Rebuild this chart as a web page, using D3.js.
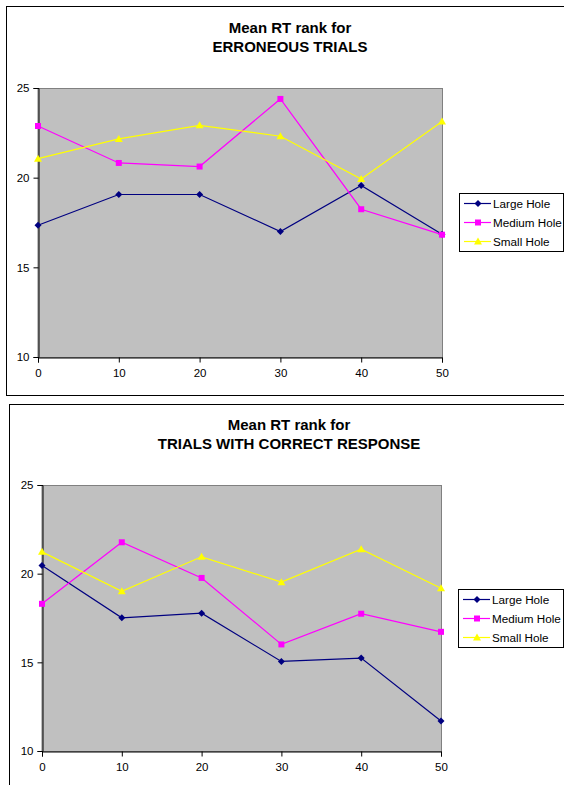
<!DOCTYPE html>
<html><head><meta charset="utf-8">
<script src="https://cdn.jsdelivr.net/npm/d3@7"></script>
<style>
html,body{margin:0;padding:0;background:#fff;}
svg{display:block;font-family:Arial,"Liberation Sans",sans-serif;}
</style></head>
<body>
<svg id="chart" width="564" height="785"></svg>
<script>
// ---- data ----
const xValues = [0, 10, 20, 30, 40, 50];
const yTicks = [10, 15, 20, 25];
const seriesNames = ["Large Hole", "Medium Hole", "Small Hole"];
const seriesColors = ["#000080", "#FF00FF", "#FFFF00"];
const errTitle = ["Mean RT rank for", "ERRONEOUS TRIALS"];
const errLarge  = [17.35, 19.06, 19.06, 17.0, 19.56, 16.85];
const errMedium = [22.88, 20.82, 20.62, 24.39, 18.24, 16.82];
const errSmall  = [21.06, 22.16, 22.92, 22.31, 19.93, 23.13];
const corTitle = ["Mean RT rank for", "TRIALS WITH CORRECT RESPONSE"];
const corLarge  = [20.46, 17.51, 17.77, 15.05, 15.24, 11.69];
const corMedium = [18.30, 21.77, 19.76, 16.01, 17.74, 16.72];
const corSmall  = [21.23, 19.01, 20.95, 19.52, 21.38, 19.18];

const svg = d3.select("#chart");

const markerPaths = [
  "M0,-3.5L3.5,0L0,3.5L-3.5,0Z",
  "M-3,-3L3,-3L3,3L-3,3Z",
  "M0,-4L4,3L-4,3Z"
];

function drawChart(cfg) {
  const g = svg.append("g");
  // outer frame
  g.append("rect")
    .attr("x", cfg.frame.x + 0.5).attr("y", cfg.frame.y + 0.5)
    .attr("width", cfg.frame.w).attr("height", cfg.frame.h)
    .attr("fill", "#fff").attr("stroke", "#000").attr("stroke-width", 1);

  // title
  cfg.title.forEach((t, i) => {
    g.append("text")
      .attr("x", cfg.titleX).attr("y", cfg.titleY + i * 18.5)
      .attr("text-anchor", "middle")
      .attr("font-size", "15px").attr("font-weight", "bold")
      .text(t);
  });

  const x = d3.scaleLinear().domain([0, 50]).range([cfg.plot.x0, cfg.plot.x1]);
  const y = d3.scaleLinear().domain([10, 25]).range([cfg.plot.y1, cfg.plot.y0]);

  // plot area
  g.append("rect")
    .attr("x", cfg.plot.x0).attr("y", cfg.plot.y0 + 0.5)
    .attr("width", cfg.plot.x1 - cfg.plot.x0 + 0.5)
    .attr("height", cfg.plot.y1 - cfg.plot.y0)
    .attr("fill", "#C0C0C0").attr("stroke", "#808080").attr("stroke-width", 1);

  // axes
  const yAxis = d3.axisLeft(y).tickValues(yTicks).tickSizeOuter(0).tickSize(5).tickPadding(4);
  const xAxis = d3.axisBottom(x).tickValues(xValues).tickSizeOuter(0).tickSize(5).tickPadding(6);
  const ya = g.append("g").attr("transform", `translate(${cfg.plot.x0 + 0.5},0)`).call(yAxis);
  const xa = g.append("g").attr("transform", `translate(0,${cfg.plot.y1 + 0.5})`).call(xAxis);
  [ya, xa].forEach(a => {
    a.selectAll("text").attr("font-size", "11.5px").attr("font-family", "Arial, Liberation Sans, sans-serif").attr("fill", "#000");
    a.selectAll("line,path").attr("stroke", "#000");
  });

  // series
  const line = d3.line().x((d, i) => x(xValues[i])).y(d => y(d));
  cfg.series.forEach((vals, si) => {
    g.append("path").datum(vals)
      .attr("d", line).attr("fill", "none")
      .attr("stroke", seriesColors[si]).attr("stroke-width", 1.2);
  });
  cfg.series.forEach((vals, si) => {
    g.selectAll(null).data(vals).enter().append("path")
      .attr("d", markerPaths[si])
      .attr("transform", (d, i) => `translate(${x(xValues[i])},${y(d)})`)
      .attr("fill", seriesColors[si]);
  });

  // legend
  const L = cfg.legend;
  g.append("rect")
    .attr("x", L.x + 0.5).attr("y", L.y + 0.5).attr("width", L.w).attr("height", L.h)
    .attr("fill", "#fff").attr("stroke", "#000").attr("stroke-width", 1);
  seriesNames.forEach((name, si) => {
    const cy = L.y + 10.5 + si * 19;
    g.append("line")
      .attr("x1", L.x + 5).attr("x2", L.x + 32).attr("y1", cy).attr("y2", cy)
      .attr("stroke", seriesColors[si]).attr("stroke-width", 1.2);
    g.append("path").attr("d", markerPaths[si])
      .attr("transform", `translate(${L.x + 19},${cy})`)
      .attr("fill", seriesColors[si]);
    g.append("text")
      .attr("x", L.x + 34).attr("y", cy + 4)
      .attr("font-size", "11.7px").text(name);
  });
}

drawChart({
  frame: {x: 6, y: 6, w: 600, h: 389},
  title: errTitle, titleX: 290, titleY: 33,
  plot: {x0: 38, x1: 442, y0: 88, y1: 357},
  series: [errLarge, errMedium, errSmall],
  legend: {x: 459, y: 193, w: 104, h: 58}
});

drawChart({
  frame: {x: 9, y: 404, w: 600, h: 400},
  title: corTitle, titleX: 289, titleY: 430,
  plot: {x0: 42, x1: 441, y0: 485, y1: 751},
  series: [corLarge, corMedium, corSmall],
  legend: {x: 458, y: 589, w: 105, h: 58}
});
</script>
</body></html>
